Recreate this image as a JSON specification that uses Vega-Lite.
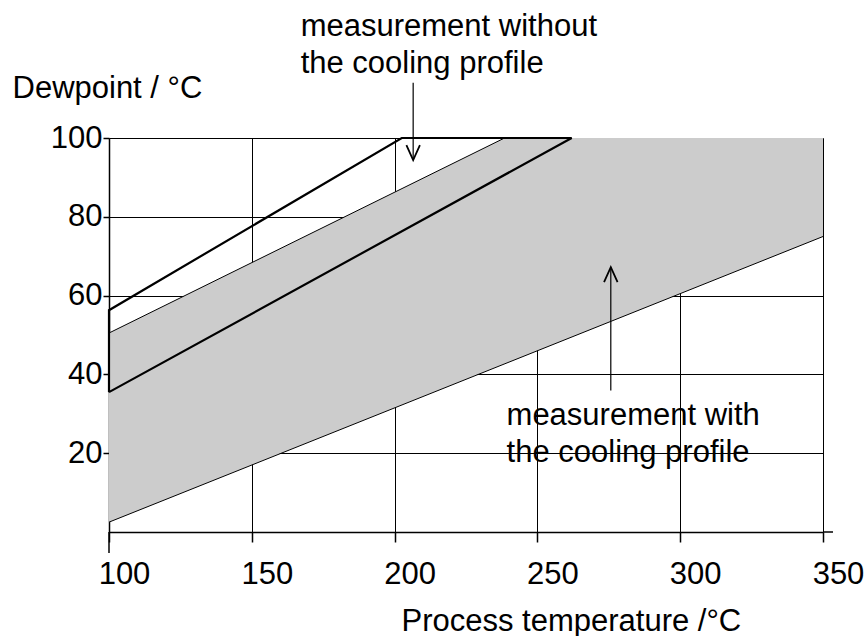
{
  "$schema": "https://vega.github.io/schema/vega-lite/v6.json",
  "width": 714,
  "height": 394,
  "autosize": "none",
  "padding": {"left": 109, "top": 138, "right": 44, "bottom": 104},
  "background": "white",
  "config": {
    "view": {"stroke": null},
    "font": "Liberation Sans",
    "axis": {
      "domainColor": "black",
      "domainWidth": 1.5,
      "tickColor": "black",
      "tickWidth": 1.5,
      "gridColor": "black",
      "gridWidth": 1,
      "gridOpacity": 1,
      "labelFont": "Liberation Sans",
      "labelFontSize": 31,
      "labelColor": "black",
      "titleFont": "Liberation Sans",
      "titleFontSize": 31,
      "titleFontWeight": "normal",
      "titleColor": "black",
      "zindex": 1
    }
  },
  "datasets": {
    "band": [
      {"t": 100, "hi": 50.5, "lo": 2.5},
      {"t": 238.5, "hi": 100, "lo": 42.7},
      {"t": 350, "hi": 100, "lo": 75}
    ],
    "edges": [
      {"edge": "upper", "t": 100, "v": 50.5},
      {"edge": "upper", "t": 238.5, "v": 100},
      {"edge": "lower", "t": 100, "v": 2.5},
      {"edge": "lower", "t": 350, "v": 75}
    ],
    "nocool": [
      {"i": 1, "t": 100, "v": 35.5},
      {"i": 2, "t": 262, "v": 100},
      {"i": 3, "t": 202.5, "v": 100},
      {"i": 4, "t": 100, "v": 56.3},
      {"i": 5, "t": 100, "v": 35.5}
    ],
    "arrows": [
      {"dir": "down", "ax": 206.5, "from": 114, "to": 94.4},
      {"dir": "up", "ax": 275.7, "from": 35.9, "to": 67.2}
    ],
    "axisext": [
      {"x1": 100, "x2": 100, "y1": -5.3, "y2": 0},
      {"x1": 350, "x2": 353.5, "y1": 0, "y2": 0}
    ],
    "notes": [
      {"tx": 167.1, "ty": 125.9, "label": ["measurement without", "the cooling profile"]},
      {"tx": 239.2, "ty": 27.2, "label": ["measurement with", "the cooling profile"]}
    ]
  },
  "encoding": {
    "x": {
      "type": "quantitative",
      "scale": {"domain": [100, 350], "nice": false, "zero": false}
    },
    "y": {
      "type": "quantitative",
      "scale": {"domain": [0, 100], "nice": false, "zero": false}
    }
  },
  "layer": [
    {
      "data": {"name": "band"},
      "mark": {"type": "area", "color": "#cccccc", "opacity": 1},
      "encoding": {
        "x": {"field": "t", "type": "quantitative",
          "axis": {
            "orient": "bottom",
            "values": [100, 150, 200, 250, 300, 350],
            "tickSize": 10,
            "labelOffset": 15,
            "labelBaseline": "alphabetic",
            "labelPadding": 41,
            "labelFlush": false,
            "labelOverlap": false,
            "grid": true,
            "title": "Process temperature /°C",
            "titleAnchor": "start",
            "titleAlign": "left",
            "titleBaseline": "alphabetic",
            "titleX": 292,
            "titleY": 98
          }
        },
        "y": {"field": "hi", "type": "quantitative",
          "axis": {
            "values": [20, 40, 60, 80, 100],
            "tickSize": 6,
            "labelPadding": 1,
            "labelBaseline": "middle",
            "grid": true,
            "title": "Dewpoint / °C",
            "titleAngle": 0,
            "titleAnchor": "start",
            "titleAlign": "left",
            "titleBaseline": "alphabetic",
            "titleX": -97,
            "titleY": -40.3
          }
        },
        "y2": {"field": "lo"}
      }
    },
    {
      "data": {"name": "edges"},
      "mark": {"type": "line", "color": "black", "strokeWidth": 1},
      "encoding": {
        "x": {"field": "t", "type": "quantitative"},
        "y": {"field": "v", "type": "quantitative"},
        "detail": {"field": "edge"}
      }
    },
    {
      "data": {"name": "nocool"},
      "mark": {"type": "line", "color": "black", "strokeWidth": 2.2},
      "encoding": {
        "x": {"field": "t", "type": "quantitative"},
        "y": {"field": "v", "type": "quantitative"},
        "order": {"field": "i", "type": "quantitative"}
      }
    },
    {
      "data": {"name": "axisext"},
      "mark": {"type": "rule", "color": "black", "strokeWidth": 1.5},
      "encoding": {
        "x": {"field": "x1", "type": "quantitative"},
        "x2": {"field": "x2"},
        "y": {"field": "y1", "type": "quantitative"},
        "y2": {"field": "y2"}
      }
    },
    {
      "data": {"name": "arrows"},
      "mark": {"type": "rule", "color": "black", "strokeWidth": 1.2},
      "encoding": {
        "x": {"field": "ax", "type": "quantitative"},
        "y": {"field": "from", "type": "quantitative"},
        "y2": {"field": "to"}
      }
    },
    {
      "data": {"name": "arrows"},
      "mark": {"type": "point", "filled": false, "stroke": "black", "strokeWidth": 1.8, "size": 900, "opacity": 1},
      "encoding": {
        "x": {"field": "ax", "type": "quantitative"},
        "y": {"field": "to", "type": "quantitative"},
        "shape": {
          "field": "dir", "type": "nominal",
          "scale": {"domain": ["down", "up"], "range": ["M-0.45,-1L0,0L0.45,-1", "M-0.45,1L0,0L0.45,1"]},
          "legend": null
        }
      }
    },
    {
      "data": {"name": "notes"},
      "mark": {"type": "text", "align": "left", "baseline": "alphabetic", "fontSize": 31, "font": "Liberation Sans", "color": "black", "lineHeight": 37.5},
      "encoding": {
        "x": {"field": "tx", "type": "quantitative"},
        "y": {"field": "ty", "type": "quantitative"},
        "text": {"field": "label"}
      }
    }
  ]
}
